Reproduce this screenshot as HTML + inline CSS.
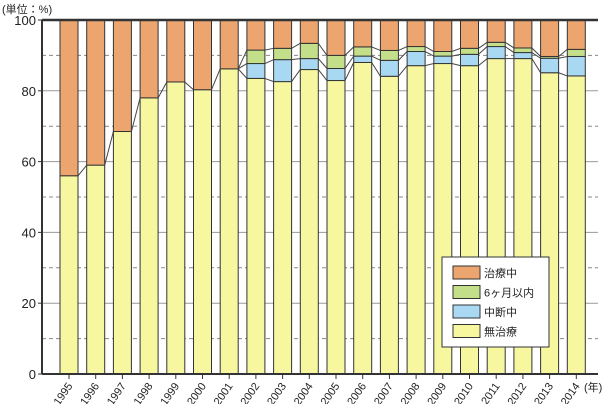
<!DOCTYPE html>
<html><head><meta charset="utf-8"><style>
body{margin:0;background:#fff}
svg{display:block;font-family:"Liberation Sans","Noto Sans CJK JP",sans-serif}
</style></head><body>
<svg id="c" width="604" height="404"></svg>
<script>
const years=["1995","1996","1997","1998","1999","2000","2001","2002","2003","2004","2005","2006","2007","2008","2009","2010","2011","2012","2013","2014"];
const noTreatment=[56,59,68.5,78,82.5,80.3,86.2,83.5,82.6,86,82.9,88,84.1,87.1,87.7,87.1,89.1,89.1,85.1,84.2];
const interrupted=[0,0,0,0,0,0,0,4.2,6.2,3.1,3.4,1.8,4.5,4,2.1,3.2,3.4,1.7,4.1,5.5];
const within6m=[0,0,0,0,0,0,0,3.8,3.2,4.3,3.7,2.6,2.8,1.4,1.3,1.7,1.2,1.3,0.5,2];
const yTicks=[0,20,40,60,80,100];
const svg=document.getElementById('c');
const NS='http://www.w3.org/2000/svg';
const L=42,R=598,T=20,B=374;
const y=v=>B-(B-T)*v/100;
const x=i=>69+26.7*i;
const bw=18;
function el(tag,attrs,parent){const e=document.createElementNS(NS,tag);for(const k in attrs)e.setAttribute(k,attrs[k]);(parent||svg).appendChild(e);return e;}
// grid
for(let v=10;v<100;v+=10){
  const g=el('line',{x1:L,x2:R,y1:y(v),y2:y(v),stroke:v%20?'#888':'#999','stroke-width':1,'stroke-dasharray':v%20?'4,3':''});
  
  
}
yTicks.forEach(v=>{
  const t=el('text',{x:L-6,y:y(v)+5,'text-anchor':'end','font-size':13,fill:'#222'});
  t.textContent=v;
  
  
  el('line',{x1:L-4,x2:L,y1:y(v),y2:y(v),stroke:'#333'});
});
const colors=['#f7f7a0','#a9d8f3','#c4df8a','#eda56f'];
const names=['no-treatment','interrupted','within-6-months','in-treatment'];
const bounds=years.map((_,i)=>{const a=noTreatment[i],b=a+interrupted[i],c=b+within6m[i];return [0,a,b,c,100];});
years.forEach((yr,i)=>{
  for(let s=0;s<4;s++){
    const lo=bounds[i][s],hi=bounds[i][s+1];
    if(hi-lo<=0)continue;
    const r=el('rect',{x:x(i)-bw/2,y:y(hi),width:bw,height:y(lo)-y(hi),fill:colors[s],stroke:'#333','stroke-width':1});
    
    
  }
  const tk=el('line',{x1:x(i),x2:x(i),y1:B,y2:B+5,stroke:'#333'});
  const t=el('text',{x:0,y:0,'text-anchor':'end','font-size':11,fill:'#222',transform:`translate(${x(i)+4},${B+12}) rotate(-55)`});
  t.textContent=yr;
  
  
});
// connectors
for(let i=0;i<years.length-1;i++){
  for(let s=1;s<4;s++){
    const a=bounds[i][s],b=bounds[i+1][s];
    if(s>1&&a===bounds[i][1]&&b===bounds[i+1][1])continue;
    const ln=el('line',{x1:x(i)+bw/2,x2:x(i+1)-bw/2,y1:y(a),y2:y(b),stroke:'#444','stroke-width':1});
    
    
  }
}
el('line',{x1:L,x2:R,y1:T,y2:T,stroke:'#333','stroke-width':2.5});
el('line',{x1:L,x2:L,y1:T,y2:B,stroke:'#333','stroke-width':2});
el('line',{x1:L,x2:R,y1:B,y2:B,stroke:'#333','stroke-width':2});
let u=el('text',{x:2,y:13,'font-size':11,fill:'#222'});u.textContent='(単位：%)';

let yl=el('text',{x:584,y:391,'font-size':11,fill:'#222'});yl.textContent='(年)';

// legend
const lg=el('g',{});

el('rect',{x:442,y:257,width:107,height:90,fill:'#fff',stroke:'#333'},lg);
const labels=['治療中','6ヶ月以内','中断中','無治療'];
const lc=['#eda56f','#c4df8a','#a9d8f3','#f7f7a0'];
labels.forEach((l,k)=>{
  const yy=266+k*19.5;
  const g=el('g',{},lg);
  
  
  el('rect',{x:453,y:yy,width:27,height:13,fill:lc[k],stroke:'#333'},g);
  const t=el('text',{x:484,y:yy+11,'font-size':11,fill:'#222'},g);t.textContent=l;
});
</script>
</body></html>
